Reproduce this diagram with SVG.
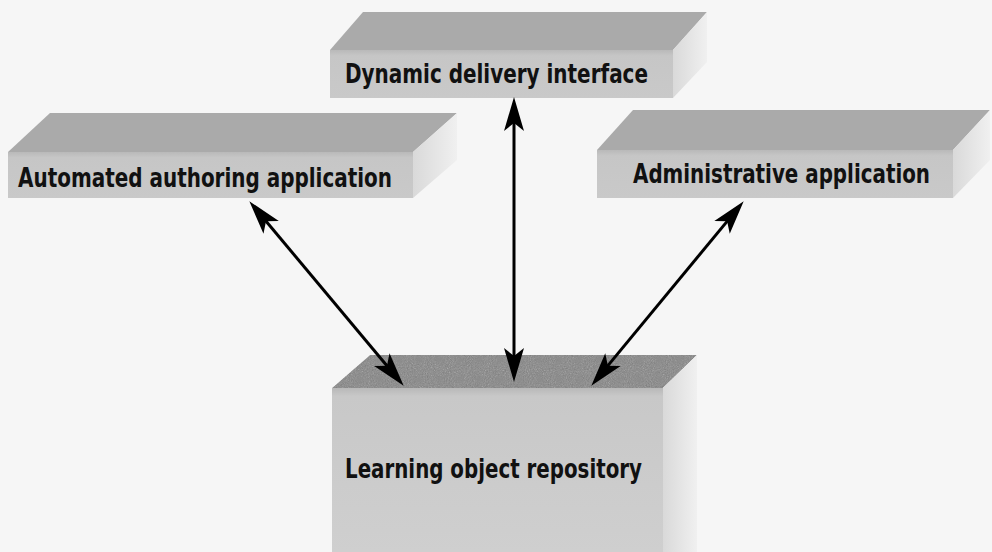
<svg xmlns="http://www.w3.org/2000/svg" width="992" height="552" viewBox="0 0 992 552">
  <style>
    .top { fill: #aaaaaa; }
    .front { fill: url(#frontShade); }
    .side { fill: url(#sideShade); }
    .label { font-family: "Liberation Sans Narrow", "DejaVu Sans Condensed", "Liberation Sans", sans-serif; font-weight: bold; font-size: 26px; fill: #111; }
    .link { stroke: #000; stroke-width: 3; fill: none; marker-start: url(#head); marker-end: url(#head); }
  </style>
  <defs>
    <linearGradient id="frontShade" x1="0" y1="0" x2="0" y2="1">
      <stop offset="0" stop-color="#b9b9b9"/>
      <stop offset="0.12" stop-color="#c6c6c6"/>
      <stop offset="1" stop-color="#c9c9c9"/>
    </linearGradient>
    <linearGradient id="repoFront" x1="0" y1="0" x2="0" y2="1">
      <stop offset="0" stop-color="#b8b8b8"/>
      <stop offset="0.05" stop-color="#c8c8c8"/>
      <stop offset="1" stop-color="#cfcfcf"/>
    </linearGradient>
    <linearGradient id="sideShade" x1="0" y1="0" x2="1" y2="0">
      <stop offset="0" stop-color="#d9d9d9"/>
      <stop offset="1" stop-color="#f0f0f0"/>
    </linearGradient>
    <filter id="grain" x="0" y="0" width="100%" height="100%">
      <feTurbulence type="fractalNoise" baseFrequency="0.95" numOctaves="2" seed="7" result="noise"/>
      <feColorMatrix in="noise" type="saturate" values="0" result="grey"/>
      <feComposite in="SourceGraphic" in2="grey" operator="arithmetic" k1="0" k2="1" k3="0.4" k4="-0.2" result="mix"/>
      <feComposite in="mix" in2="SourceGraphic" operator="in"/>
    </filter>
    <marker id="head" markerUnits="userSpaceOnUse" markerWidth="40" markerHeight="30" refX="18" refY="0" orient="auto-start-reverse" overflow="visible">
      <path d="M34,0 L0,-10 L8,0 L0,10 Z" fill="#000"/>
    </marker>
  </defs>

  <rect width="992" height="552" fill="#f6f6f6"/>

  <!-- delivery box -->
  <g id="node-dynamic">
    <polygon class="top" points="330,50 673,50 707,12 363,12"/>
    <polygon class="side" points="673,50 707,12 707,62 673,98"/>
    <rect class="front" x="330" y="50" width="343" height="48"/>
    <text class="label" x="345" y="83" textLength="303" lengthAdjust="spacingAndGlyphs">Dynamic delivery interface</text>
  </g>

  <!-- authoring box -->
  <g id="node-authoring">
    <polygon class="top" points="8,152 413,152 457,113 50,113"/>
    <polygon class="side" points="413,152 457,113 457,160 413,198"/>
    <rect class="front" x="8" y="152" width="405" height="46"/>
    <text class="label" x="18" y="187" textLength="374" lengthAdjust="spacingAndGlyphs">Automated authoring application</text>
  </g>

  <!-- administration box -->
  <g id="node-admin">
    <polygon class="top" points="597,150 953,150 990,110 633,110"/>
    <polygon class="side" points="953,150 990,110 990,160 953,198"/>
    <rect class="front" x="597" y="150" width="356" height="48"/>
    <text class="label" x="633" y="183" textLength="297" lengthAdjust="spacingAndGlyphs">Administrative application</text>
  </g>

  <!-- repository block -->
  <g id="node-repository">
    <polygon points="332,388 663,388 697,355 370,355" fill="#a2a2a2" filter="url(#grain)"/>
    <polygon class="side" points="663,388 697,355 697,552 663,552"/>
    <rect x="332" y="388" width="331" height="164" fill="url(#repoFront)"/>
    <text class="label" x="345" y="478" textLength="297" lengthAdjust="spacingAndGlyphs">Learning object repository</text>
  </g>

  <!-- two-way links to the repository -->
  <g id="connectors">
    <line class="link" x1="259.6" y1="213.5" x2="393.4" y2="373.5"/>
    <line class="link" x1="514" y1="113" x2="514" y2="366"/>
    <line class="link" x1="733.5" y1="213.6" x2="601.5" y2="373.4"/>
  </g>
</svg>
